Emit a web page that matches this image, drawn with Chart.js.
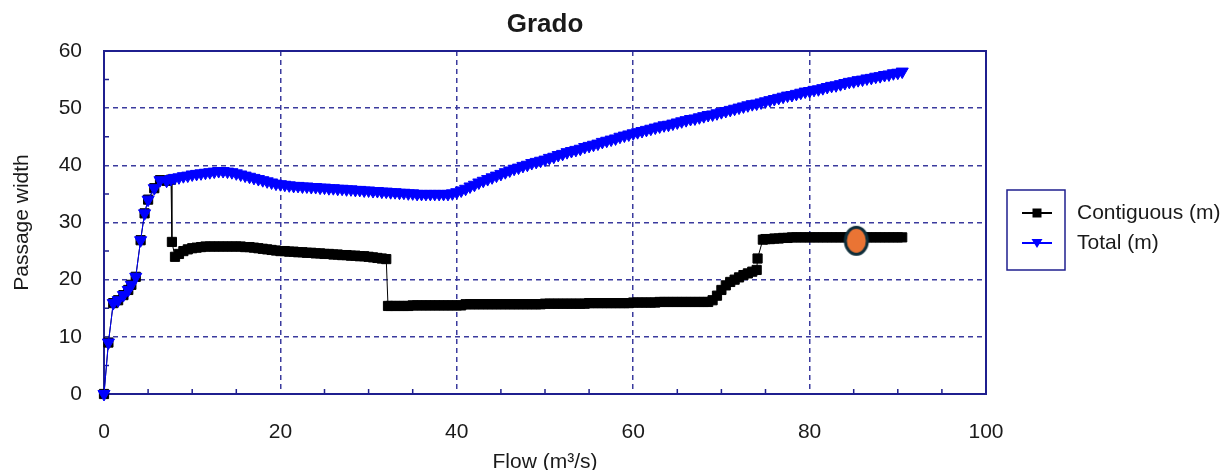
<!DOCTYPE html>
<html>
<head>
<meta charset="utf-8">
<title>Grado</title>
<script src="https://cdn.jsdelivr.net/npm/chart.js@4.4.1/dist/chart.umd.min.js"></script>
<style>
  html, body { margin: 0; padding: 0; background: #fff; }
  #wrap { width: 1222px; height: 470px; position: relative; }
</style>
</head>
<body>
<div id="wrap"><canvas id="gradoChart"></canvas></div>
<script>
// === DATA ===
const chartTitle = "Grado";
const xTitle = "Flow (m³/s)";
const yTitle = "Passage width";
const seriesNames = ["Contiguous (m)", "Total (m)"];

const xTicks = [0, 20, 40, 60, 80, 100];
const yTicks = [0, 10, 20, 30, 40, 50, 60];

// Contiguous (m)
const flowContiguous = [
  0, 0.5, 1.05, 1.6, 2.2, 2.75, 3.1, 3.6, 4.15, 4.6, 5.0, 5.7, 6.35, 7.1, 7.6,
  7.7, 8.05, 8.5, 9, 9.5,
  10, 10.5, 11, 11.5, 12, 12.5, 13, 13.5, 14, 14.5, 15, 15.5, 16, 16.5, 17, 17.5, 18, 18.5, 19, 19.5,
  20, 20.5, 21, 21.5, 22, 22.5, 23, 23.5, 24, 24.5, 25, 25.5, 26, 26.5, 27, 27.5, 28, 28.5, 29, 29.5,
  30, 30.5, 31, 31.5, 32,
  32.2, 32.5, 33, 33.5, 34, 34.5, 35, 35.5, 36, 36.5, 37, 37.5, 38, 38.5, 39, 39.5,
  40, 40.5, 41, 41.5, 42, 42.5, 43, 43.5, 44, 44.5, 45, 45.5, 46, 46.5, 47, 47.5, 48, 48.5, 49, 49.5,
  50, 50.5, 51, 51.5, 52, 52.5, 53, 53.5, 54, 54.5, 55, 55.5, 56, 56.5, 57, 57.5, 58, 58.5, 59, 59.5,
  60, 60.5, 61, 61.5, 62, 62.5, 63, 63.5, 64, 64.5, 65, 65.5, 66, 66.5, 67, 67.5, 68, 68.5,
  69, 69.5, 70, 70.5, 71, 71.5, 72, 72.5, 73, 73.5, 74,
  74.1, 74.7,
  75, 75.5, 76, 76.5, 77, 77.5, 78, 78.5, 79, 79.5,
  80, 80.5, 81, 81.5, 82, 82.5, 83, 83.5, 84, 84.5, 85, 85.5, 86, 86.5, 87, 87.5, 88, 88.5, 89, 89.5,
  90, 90.5
];
const widthContiguous = [
  0, 9.0, 15.9, 16.4, 17.3, 18.2, 19.1, 20.5, 26.9, 31.6, 34.0, 36.0, 37.4, 37.3, 37.5,
  26.6, 24.0, 24.5, 25.0, 25.3,
  25.5, 25.6, 25.7, 25.8, 25.8, 25.8, 25.8, 25.8, 25.8, 25.8, 25.8, 25.8, 25.7, 25.7, 25.6, 25.5, 25.4, 25.3, 25.2, 25.1,
  25.0, 25.0, 24.9, 24.9, 24.8, 24.8, 24.7, 24.7, 24.6, 24.6, 24.5, 24.5, 24.4, 24.4, 24.3, 24.3, 24.2, 24.2, 24.1, 24.1,
  24.0, 23.9, 23.8, 23.7, 23.6,
  15.4, 15.4, 15.4, 15.4, 15.4, 15.4, 15.5, 15.5, 15.5, 15.5, 15.5, 15.5, 15.5, 15.5, 15.5, 15.5,
  15.5, 15.5, 15.7, 15.7, 15.7, 15.7, 15.7, 15.7, 15.7, 15.7, 15.7, 15.7, 15.7, 15.7, 15.7, 15.7, 15.7, 15.7, 15.7, 15.7,
  15.8, 15.8, 15.8, 15.8, 15.8, 15.8, 15.8, 15.8, 15.8, 15.8, 15.9, 15.9, 15.9, 15.9, 15.9, 15.9, 15.9, 15.9, 15.9, 15.9,
  16.0, 16.0, 16.0, 16.0, 16.0, 16.0, 16.1, 16.1, 16.1, 16.1, 16.1, 16.1, 16.1, 16.1, 16.1, 16.1, 16.1, 16.1,
  16.4, 17.2, 18.2, 19.0, 19.6, 20.0, 20.4, 20.8, 21.1, 21.4, 21.7,
  23.7, 27.0,
  27.1, 27.1, 27.2, 27.2, 27.3, 27.3, 27.4, 27.4, 27.4, 27.4,
  27.4, 27.4, 27.4, 27.4, 27.4, 27.4, 27.4, 27.4, 27.4, 27.4, 27.4, 27.4, 27.4, 27.4, 27.4, 27.4, 27.4, 27.4, 27.4, 27.4,
  27.4, 27.4
];

// Total (m)
const flowTotal = [
  0, 0.5, 1.05, 1.6, 2.2, 2.75, 3.1, 3.6, 4.15, 4.6, 5.0, 5.7, 6.35, 7.1, 7.6,
  8, 8.5, 9, 9.5, 10, 10.5, 11, 11.5, 12, 12.5, 13, 13.5, 14, 14.5, 15, 15.5, 16, 16.5, 17, 17.5, 18, 18.5, 19, 19.5,
  20, 20.5, 21, 21.5, 22, 22.5, 23, 23.5, 24, 24.5, 25, 25.5, 26, 26.5, 27, 27.5, 28, 28.5, 29, 29.5,
  30, 30.5, 31, 31.5, 32, 32.5, 33, 33.5, 34, 34.5, 35, 35.5, 36, 36.5, 37, 37.5, 38, 38.5, 39, 39.5,
  40, 40.5, 41, 41.5, 42, 42.5, 43, 43.5, 44, 44.5, 45, 45.5, 46, 46.5, 47, 47.5, 48, 48.5, 49, 49.5,
  50, 50.5, 51, 51.5, 52, 52.5, 53, 53.5, 54, 54.5, 55, 55.5, 56, 56.5, 57, 57.5, 58, 58.5, 59, 59.5,
  60, 60.5, 61, 61.5, 62, 62.5, 63, 63.5, 64, 64.5, 65, 65.5, 66, 66.5, 67, 67.5, 68, 68.5, 69, 69.5,
  70, 70.5, 71, 71.5, 72, 72.5, 73, 73.5, 74, 74.5, 75, 75.5, 76, 76.5, 77, 77.5, 78, 78.5, 79, 79.5,
  80, 80.5, 81, 81.5, 82, 82.5, 83, 83.5, 84, 84.5, 85, 85.5, 86, 86.5, 87, 87.5, 88, 88.5, 89, 89.5,
  90, 90.5
];
const widthTotal = [
  0, 9.0, 15.9, 16.4, 17.3, 18.2, 19.1, 20.5, 26.9, 31.6, 34.0, 36.0, 37.4, 37.3, 37.6,
  37.8, 37.9, 38.1, 38.2, 38.4, 38.5, 38.6, 38.7, 38.8, 38.9, 39.0, 39.0, 38.9, 38.8, 38.6, 38.4, 38.2, 38.0, 37.8, 37.6, 37.4, 37.2, 37.0, 36.8,
  36.7, 36.6, 36.5, 36.4, 36.4, 36.3, 36.3, 36.2, 36.2, 36.1, 36.1, 36.0, 36.0, 35.9, 35.9, 35.8, 35.8, 35.7, 35.7, 35.6,
  35.6, 35.5, 35.5, 35.4, 35.4, 35.3, 35.3, 35.2, 35.2, 35.1, 35.1, 35.0, 35.0, 35.0, 35.0, 35.0, 35.0, 35.0, 35.0, 35.1,
  35.3, 35.6, 35.9, 36.3, 36.6, 37.0, 37.3, 37.6, 37.9, 38.2, 38.5, 38.8, 39.1, 39.4, 39.6, 39.9, 40.1, 40.4, 40.6, 40.8,
  41.0, 41.3, 41.5, 41.8, 42.0, 42.3, 42.5, 42.7, 42.9, 43.2, 43.4, 43.6, 43.8, 44.1, 44.3, 44.5, 44.7, 45.0, 45.2, 45.4,
  45.6, 45.8, 46.0, 46.2, 46.4, 46.6, 46.8, 47.0, 47.1, 47.3, 47.5, 47.7, 47.9, 48.1, 48.2, 48.4, 48.6, 48.8, 48.9, 49.1,
  49.3, 49.5, 49.7, 49.9, 50.1, 50.3, 50.5, 50.7, 50.8, 51.0, 51.2, 51.4, 51.6, 51.8, 52.0, 52.2, 52.3, 52.5, 52.7, 52.9,
  53.0, 53.2, 53.3, 53.5, 53.7, 53.9, 54.0, 54.2, 54.4, 54.6, 54.7, 54.9, 55.0, 55.2, 55.3, 55.5, 55.6, 55.8, 55.9, 56.1,
  56.2, 56.4
];

// highlighted point (orange)
const markFlow = [85.3];
const markWidth = [26.8];

// === STYLE ===
const navy = "#1f1f8f";
const gridNavy = "#3b3b9e";
const textColor = "#1a1a1a";
const fontFamily = "'Liberation Sans', Arial, sans-serif";

function toPoints(xs, ys) {
  return xs.map((x, i) => ({ x: x, y: ys[i] }));
}

// orange ellipse marker
const markCanvas = document.createElement("canvas");
markCanvas.width = 28;
markCanvas.height = 32;
(function () {
  const c = markCanvas.getContext("2d");
  c.beginPath();
  c.ellipse(14, 16, 11, 13.5, 0, 0, Math.PI * 2);
  c.fillStyle = "#ea7434";
  c.fill();
  c.lineWidth = 3;
  c.strokeStyle = "#0f2e3a";
  c.stroke();
})();

// title, frame, minor ticks and legend
const framePlugin = {
  id: "frame",
  beforeDatasetsDraw(chart) {
    const { ctx, chartArea: a, scales } = chart;
    ctx.save();
    ctx.strokeStyle = navy;
    ctx.lineWidth = 1.5;
    ctx.beginPath();
    for (let v = 5; v < 100; v += 5) {
      if (v % 20 === 0) continue;
      const px = scales.x.getPixelForValue(v);
      ctx.moveTo(px, a.bottom);
      ctx.lineTo(px, a.bottom - 5);
    }
    for (let v = 5; v < 60; v += 10) {
      const py = scales.y.getPixelForValue(v);
      ctx.moveTo(a.left, py);
      ctx.lineTo(a.left + 5, py);
    }
    ctx.stroke();
    ctx.lineWidth = 2;
    ctx.strokeRect(a.left, a.top, a.right - a.left, a.bottom - a.top);
    ctx.restore();
  },
  afterDraw(chart) {
    const { ctx, chartArea: a } = chart;
    ctx.save();
    ctx.fillStyle = textColor;
    ctx.font = "bold 26px " + fontFamily;
    ctx.textAlign = "center";
    ctx.textBaseline = "middle";
    ctx.fillText(chartTitle, (a.left + a.right) / 2, 25);

    // legend
    const bx = a.right + 21, by = 190, bw = 58, bh = 80;
    ctx.strokeStyle = navy;
    ctx.lineWidth = 1.5;
    ctx.strokeRect(bx, by, bw, bh);

    const rows = [
      { color: "#000000", y: 213, shape: "rect" },
      { color: "#0000ff", y: 243, shape: "tri" }
    ];
    rows.forEach((r, i) => {
      ctx.strokeStyle = r.color;
      ctx.fillStyle = r.color;
      ctx.lineWidth = 2;
      ctx.beginPath();
      ctx.moveTo(bx + 15, r.y);
      ctx.lineTo(bx + 45, r.y);
      ctx.stroke();
      const cx = bx + 30;
      ctx.beginPath();
      if (r.shape === "rect") {
        ctx.rect(cx - 4.5, r.y - 4.5, 9, 9);
      } else {
        ctx.moveTo(cx - 5.5, r.y - 4);
        ctx.lineTo(cx + 5.5, r.y - 4);
        ctx.lineTo(cx, r.y + 5);
        ctx.closePath();
      }
      ctx.fill();
      ctx.fillStyle = textColor;
      ctx.font = "21px " + fontFamily;
      ctx.textAlign = "left";
      ctx.textBaseline = "middle";
      ctx.fillText(seriesNames[i], bx + 70, r.y);
    });
    ctx.restore();
  }
};

const ctx = document.getElementById("gradoChart").getContext("2d");
const chart = new Chart(ctx, {
  type: "line",
  data: {
    datasets: [
      {
        label: "highlight",
        data: toPoints(markFlow, markWidth),
        showLine: false,
        pointStyle: markCanvas,
        pointRadius: 14,
        order: 0
      },
      {
        label: seriesNames[1],
        data: toPoints(flowTotal, widthTotal),
        borderColor: "#0000ff",
        backgroundColor: "#0000ff",
        borderWidth: 1,
        pointStyle: "triangle",
        rotation: 180,
        pointRadius: 7,
        pointBorderWidth: 1,
        tension: 0,
        order: 1
      },
      {
        label: seriesNames[0],
        data: toPoints(flowContiguous, widthContiguous),
        borderColor: "#000000",
        backgroundColor: "#000000",
        borderWidth: 1,
        pointStyle: "rect",
        pointRadius: 6.5,
        pointBorderWidth: 1,
        tension: 0,
        order: 2
      }
    ]
  },
  options: {
    responsive: true,
    maintainAspectRatio: false,
    animation: false,
    clip: false,
    layout: { padding: { left: 0, top: 51, right: 236, bottom: 0 } },
    plugins: {
      legend: { display: false },
      title: { display: false },
      tooltip: { enabled: false }
    },
    scales: {
      x: {
        type: "linear",
        min: xTicks[0],
        max: xTicks[xTicks.length - 1],
        afterBuildTicks: (scale) => { scale.ticks = xTicks.map((v) => ({ value: v })); },
        afterFit: (scale) => { scale.height = 76; },
        border: { display: false, dash: [5, 4] },
        grid: {
          drawTicks: false,
          lineWidth: 1.5,
          color: (c) => (c.tick && (c.tick.value === 0 || c.tick.value === 100) ? "rgba(0,0,0,0)" : gridNavy)
        },
        ticks: {
          padding: 26,
          color: textColor,
          font: { family: fontFamily, size: 21 }
        },
        title: {
          display: true,
          text: xTitle,
          color: textColor,
          font: { family: fontFamily, size: 21, lineHeight: 1 },
          padding: { top: 0, bottom: -3 }
        }
      },
      y: {
        type: "linear",
        min: yTicks[0],
        max: yTicks[yTicks.length - 1],
        afterBuildTicks: (scale) => { scale.ticks = yTicks.map((v) => ({ value: v })); },
        afterFit: (scale) => { scale.width = 104; },
        border: { display: false, dash: [5, 4] },
        grid: {
          drawTicks: false,
          lineWidth: 1.5,
          color: (c) => (c.tick && (c.tick.value === 0 || c.tick.value === 60) ? "rgba(0,0,0,0)" : gridNavy)
        },
        ticks: {
          padding: 22,
          color: textColor,
          font: { family: fontFamily, size: 21 }
        },
        title: {
          display: true,
          text: yTitle,
          color: textColor,
          font: { family: fontFamily, size: 21, lineHeight: 1 },
          padding: { top: 12, bottom: 0 }
        }
      }
    }
  },
  plugins: [framePlugin]
});
</script>
</body>
</html>
